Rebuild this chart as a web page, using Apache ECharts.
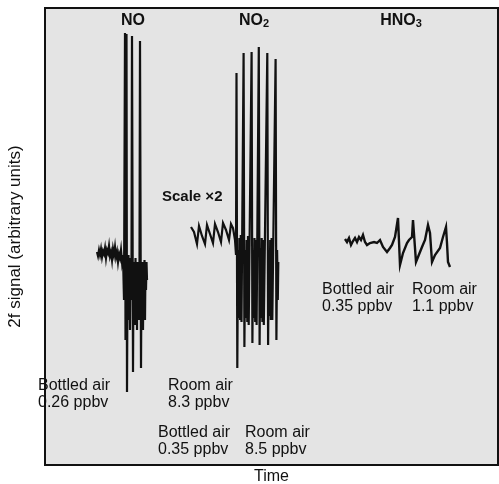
<!DOCTYPE html>
<html><head><meta charset="utf-8">
<script src="https://cdn.jsdelivr.net/npm/echarts@6/dist/echarts.min.js"></script>
<style>html,body{margin:0;padding:0;background:#fff}#c{width:499px;height:484px}</style>
</head><body><div id="c"></div>
<script>
// Time (arbitrary) and 2f signal (arbitrary units)
const noTime = [52,53,54,55,56,57,58,59,60,61,62,63,64,65,66,67,68,69,70,71,72,73,74,75,76,77,
  78,79,80,80.5,81,81.5,82,82.5,83,83.5,84,84.5,85,85.5,86,86.5,87,88,88.5,89,89.5,90,90.5,91,91.5,92,92.5,93,93.5,94,94.5,95,96,96.5,97,97.5,98,98.5,99,99.5,100,100.5,101,101.5,102];
const noSignal = [213,209,215,210,216,208,214,211,217,207,215,212,219,209,213,205,216,210,218,208,213,203,211,207,215,203,
  210,165,432,125,200,431,73,185,165,210,145,203,135,207,165,203,429,93,195,150,203,140,207,160,200,135,203,165,195,145,203,424,97,195,147,203,135,200,160,205,145,203,175,203,185];

const no2Time = [146,149,152,154,157,160,162,165,168,170,173,176,178,181,184,186,188,190,
  191,191.5,192.3,193,193.7,194.4,195.1,195.8,196.5,198.6,199.4,200.2,200.9,201.6,202.3,203,203.7,206.6,207.4,208.1,208.8,209.5,210.2,210.9,211.6,213.8,214.6,215.3,216,216.7,217.4,218.1,218.8,222.3,223.1,223.8,224.5,225.2,225.9,226.6,227.3,230.6,231.4,232.1,232.8,233.3];
const no2Signal = [238,233,221,239,229,221,240,231,222,241,233,223,242,235,225,241,237,225,
  210,392,97,215,147,227,145,230,143,412,118,215,147,225,143,229,140,413,122,215,147,227,143,225,140,418,120,217,147,227,143,225,140,412,120,215,149,225,145,227,145,406,125,215,165,203];

const hno3Time = [300,302,304,306,308,310,312,314,316,318,320,322,325,329,332,335,338,340,342,345,347,350,353,355,358,362,364,367,368,371,373,377,380,383,385,387,390,395,398,401,402,403,405];
const hno3Signal = [226,223,227,220,224,227,223,228,225,230,223,220,222,223,222,225,218,220,213,217,220,228,247,200,212,222,225,228,245,203,208,218,225,240,232,203,210,217,228,238,222,203,198];

const zip = (a, b) => a.map((v, i) => [v, b[i]]);
const FONT = '"Liberation Sans", Arial, sans-serif';

const chart = echarts.init(document.getElementById('c'), null, {renderer: 'canvas'});
function traceSeries(name, t, s, w) {
  return {name, type: 'line', data: zip(t, s), showSymbol: false, symbol: 'none',
    lineStyle: {color: '#111', width: w, join: 'miter'}, animation: false, silent: true};
}
function label(x, y, text) {
  return {type: 'text', x: x, y: y, style: {text: text, font: '16px ' + FONT, fill: '#111',
    textVerticalAlign: 'middle', lineHeight: 17}};
}
chart.setOption({
  animation: false,
  backgroundColor: '#fff',
  grid: {left: 45, top: 8, right: 1, bottom: 19, containLabel: false, outerBoundsMode: 'none',
    show: true, backgroundColor: '#e4e4e4', borderColor: '#111', borderWidth: 2},
  xAxis: {type: 'value', min: 0, max: 453, axisLine: {show: false}, axisTick: {show: false}, axisLabel: {show: false}, splitLine: {show: false},
    name: 'Time', nameLocation: 'middle', nameGap: 4, nameTextStyle: {fontFamily: FONT, fontSize: 16, color: '#111', verticalAlign: 'top'}},
  yAxis: {type: 'value', min: 0, max: 457, axisLine: {show: false}, axisTick: {show: false}, axisLabel: {show: false}, splitLine: {show: false},
    name: '2f signal (arbitrary units)', nameLocation: 'middle', nameGap: 21, nameTextStyle: {fontFamily: FONT, fontSize: 17, color: '#111'}},
  series: [traceSeries('NO', noTime, noSignal, 2.2), traceSeries('NO2', no2Time, no2Signal, 2.2), traceSeries('HNO3', hno3Time, hno3Signal, 2.4)],
  graphic: [
    {type: 'text', x: 133, y: 21, style: {text: 'NO', font: 'bold 16px ' + FONT, fill: '#111', textAlign: 'center', textVerticalAlign: 'middle'}},
    {type: 'text', x: 254, y: 21, style: {text: '{a|NO}{s|2}', textAlign: 'center', textVerticalAlign: 'middle',
      rich: {a: {font: 'bold 16px ' + FONT, fill: '#111'}, s: {font: 'bold 11px ' + FONT, fill: '#111', padding: [5, 0, 0, 0]}}}},
    {type: 'text', x: 401, y: 21, style: {text: '{a|HNO}{s|3}', textAlign: 'center', textVerticalAlign: 'middle',
      rich: {a: {font: 'bold 16px ' + FONT, fill: '#111'}, s: {font: 'bold 11px ' + FONT, fill: '#111', padding: [5, 0, 0, 0]}}}},
    {type: 'text', x: 162, y: 197, style: {text: 'Scale \u00d72', font: 'bold 15px ' + FONT, fill: '#111', textVerticalAlign: 'middle'}},
    label(38, 394, 'Bottled air\n0.26 ppbv'),
    label(168, 394, 'Room air\n8.3 ppbv'),
    label(158, 441, 'Bottled air\n0.35 ppbv'),
    label(245, 441, 'Room air\n8.5 ppbv'),
    label(322, 298, 'Bottled air\n0.35 ppbv'),
    label(412, 298, 'Room air\n1.1 ppbv')
  ]
});
</script></body></html>
